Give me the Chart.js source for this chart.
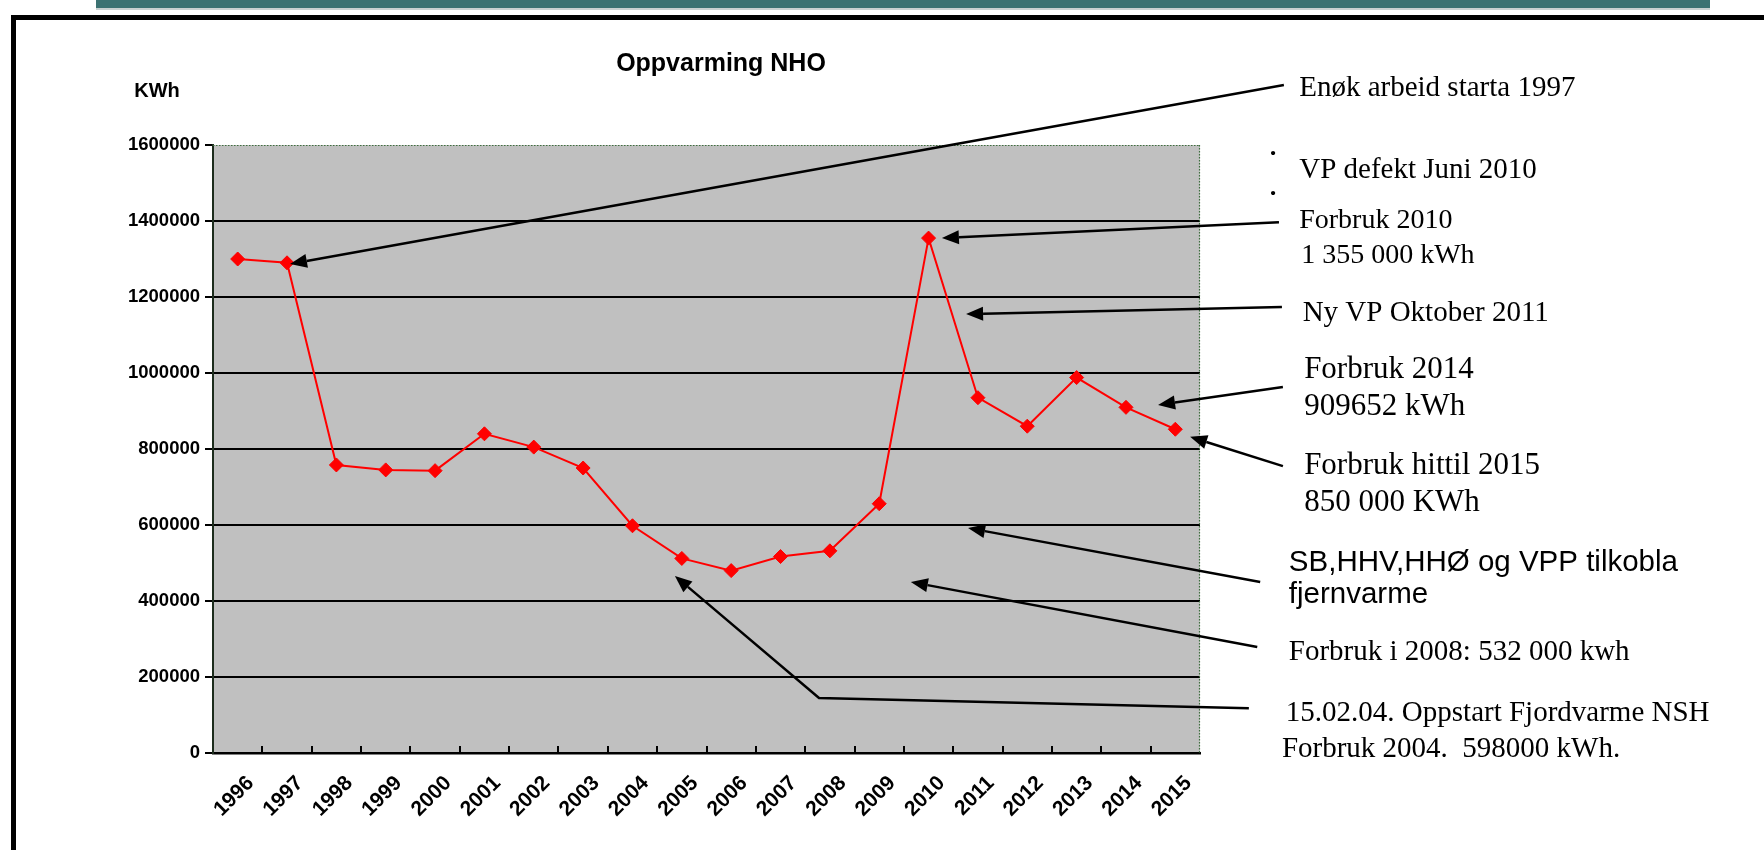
<!DOCTYPE html>
<html>
<head>
<meta charset="utf-8">
<script src="https://cdn.jsdelivr.net/npm/chart.js@4.4.1/dist/chart.umd.min.js"></script>
<style>
html,body{margin:0;padding:0;background:#fff;overflow:hidden;}
canvas{display:block;}
</style>
</head>
<body>
<canvas id="c" width="1764" height="850"></canvas>
<script>
// ---- data ----
const years = ['1996','1997','1998','1999','2000','2001','2002','2003','2004','2005',
               '2006','2007','2008','2009','2010','2011','2012','2013','2014','2015'];
const consumption = [1300000, 1290000, 758000, 745000, 743000, 840000, 805000, 750000, 598000, 512000,
                     480000, 517000, 532000, 656000, 1355000, 935000, 860000, 988000, 909652, 852000];
const yMin = 0;
const yMax = 1600000;
const yStep = 200000;
const chartTitle = 'Oppvarming NHO';
const yUnit = 'KWh';

// annotation texts, positioned in data space (x = category index, y = value)
const noteText = [
  'Enøk arbeid starta 1997',
  'VP defekt Juni 2010',
  'Forbruk 2010',
  '1 355 000 kWh',
  'Ny VP Oktober 2011',
  'Forbruk 2014',
  '909652 kWh',
  'Forbruk hittil 2015',
  '850 000 KWh',
  'SB,HHV,HHØ og VPP tilkobla',
  'fjernvarme',
  'Forbruk i 2008: 532 000 kwh',
  '15.02.04. Oppstart Fjordvarme NSH',
  'Forbruk 2004.  598000 kWh.'
];
const noteX = [21.51, 21.51, 21.51, 21.55, 21.58, 21.61, 21.61, 21.61, 21.61, 21.30, 21.30, 21.30, 21.24, 21.16];
const noteY = [1750000, 1533000, 1402000, 1310000, 1157000, 1008000, 912000, 755000, 658000, 500000, 416000, 266000, 105000, 10500];
const noteKind = ['s29','s29','s28','s28','s29','s31','s31','s31','s31','a29','a29','s29','s29','s29'];

// bullet dots next to "VP defekt Juni 2010"
const bulletX = [20.98, 20.98];
const bulletY = [1575000, 1470000];

// arrows: lists of [category index, value]; last point is the arrow tip
const arrowPaths = [
  [[21.20, 1758000], [1.06, 1287000]],
  [[21.10, 1397000], [14.27, 1355000]],
  [[21.16, 1174000], [14.76, 1155000]],
  [[21.18, 963000], [18.65, 916000]],
  [[21.18, 755000], [19.30, 832000]],
  [[20.72, 450000], [14.80, 592000]],
  [[20.66, 279000], [13.64, 450000]],
  [[20.49, 118000], [11.78, 145000], [8.86, 466000]]
];

const fonts = {
  s28: '28px "Liberation Serif", "Times New Roman", serif',
  s29: '29px "Liberation Serif", "Times New Roman", serif',
  s31: '31px "Liberation Serif", "Times New Roman", serif',
  a29: '29.5px "Liberation Sans", Arial, sans-serif'
};

const decorPlugin = {
  id: 'decor',
  beforeDraw(chart) {
    const ctx = chart.ctx;
    const a = chart.chartArea;
    ctx.save();
    ctx.fillStyle = '#ffffff';
    ctx.fillRect(0, 0, chart.width, chart.height);
    // teal bar at top
    ctx.fillStyle = '#3b7272';
    ctx.fillRect(96, 0, 1614, 8);
    ctx.fillStyle = '#c8d0d0';
    ctx.fillRect(96, 8, 1614, 2);
    // black frame
    ctx.fillStyle = '#000000';
    ctx.fillRect(11, 15, chart.width - 11, 5);
    ctx.fillRect(11, 15, 5, chart.height - 15);
    // plot area
    ctx.fillStyle = '#c0c0c0';
    ctx.fillRect(a.left, a.top, a.right - a.left, a.bottom - a.top);
    ctx.restore();
  },
  afterDraw(chart) {
    const ctx = chart.ctx;
    const a = chart.chartArea;
    const xs = chart.scales.x, ys = chart.scales.y;
    ctx.save();
    // dotted top/right border
    ctx.strokeStyle = '#3e6e3e';
    ctx.lineWidth = 1.2;
    ctx.setLineDash([1.5, 1.5]);
    ctx.beginPath();
    ctx.moveTo(a.left, a.top + 0.5);
    ctx.lineTo(a.right, a.top + 0.5);
    ctx.moveTo(a.right - 0.5, a.top);
    ctx.lineTo(a.right - 0.5, a.bottom);
    ctx.stroke();
    ctx.setLineDash([]);
    // inner tick marks on x axis at category boundaries
    ctx.strokeStyle = '#000';
    ctx.lineWidth = 2;
    ctx.beginPath();
    for (let i = 1; i < years.length; i++) {
      const px = Math.round(xs.getPixelForValue(i - 0.5));
      ctx.moveTo(px, a.bottom);
      ctx.lineTo(px, a.bottom - 7);
    }
    ctx.stroke();
    // title and unit
    ctx.fillStyle = '#000';
    ctx.textBaseline = 'middle';
    ctx.textAlign = 'center';
    ctx.font = 'bold 25px "Liberation Sans", Arial, sans-serif';
    ctx.fillText(chartTitle, 721, 64);
    ctx.font = 'bold 20px "Liberation Sans", Arial, sans-serif';
    ctx.fillText(yUnit, 157, 91);
    // annotation texts
    ctx.textAlign = 'left';
    for (let i = 0; i < noteText.length; i++) {
      ctx.font = fonts[noteKind[i]];
      ctx.fillText(noteText[i], xs.getPixelForValue(noteX[i]), ys.getPixelForValue(noteY[i]));
    }
    ctx.font = 'bold 26px "Liberation Serif", serif';
    ctx.textAlign = 'center';
    for (let i = 0; i < bulletX.length; i++) {
      ctx.fillText('·', xs.getPixelForValue(bulletX[i]), ys.getPixelForValue(bulletY[i]));
    }
    // arrows
    ctx.strokeStyle = '#000';
    ctx.fillStyle = '#000';
    ctx.lineWidth = 2.5;
    for (const path of arrowPaths) {
      const pts = path.map(p => [xs.getPixelForValue(p[0]), ys.getPixelForValue(p[1])]);
      const tip = pts[pts.length - 1];
      const prev = pts[pts.length - 2];
      const ang = Math.atan2(tip[1] - prev[1], tip[0] - prev[0]);
      const len = 17, half = 7;
      const bx = tip[0] - len * Math.cos(ang), by = tip[1] - len * Math.sin(ang);
      ctx.beginPath();
      ctx.moveTo(pts[0][0], pts[0][1]);
      for (let k = 1; k < pts.length - 1; k++) ctx.lineTo(pts[k][0], pts[k][1]);
      ctx.lineTo(bx, by);
      ctx.stroke();
      ctx.beginPath();
      ctx.moveTo(tip[0], tip[1]);
      ctx.lineTo(bx + half * Math.sin(ang), by - half * Math.cos(ang));
      ctx.lineTo(bx - half * Math.sin(ang), by + half * Math.cos(ang));
      ctx.closePath();
      ctx.fill();
    }
    ctx.restore();
  }
};

new Chart(document.getElementById('c'), {
  type: 'line',
  data: {
    labels: years,
    datasets: [{
      data: consumption,
      borderColor: '#ff0000',
      backgroundColor: '#ff0000',
      borderWidth: 2,
      pointStyle: 'rectRot',
      pointRadius: 7,
      pointBackgroundColor: '#ff0000',
      pointBorderColor: '#ff0000',
      pointBorderWidth: 1,
      tension: 0,
      fill: false
    }]
  },
  options: {
    responsive: false,
    devicePixelRatio: 1,
    animation: false,
    layout: { padding: { top: 145, right: 564, left: 0, bottom: 0 } },
    plugins: { legend: { display: false }, tooltip: { enabled: false }, title: { display: false } },
    scales: {
      x: {
        type: 'category',
        offset: true,
        afterFit(s) { s.height = 97; },
        grid: { display: false },
        border: { display: true, color: '#000', width: 2.5 },
        ticks: {
          autoSkip: false,
          minRotation: 45,
          maxRotation: 45,
          padding: 10,
          labelOffset: 13,
          color: '#000',
          font: { family: '"Liberation Sans", Arial, sans-serif', size: 21, weight: 'bold' }
        }
      },
      y: {
        min: yMin,
        max: yMax,
        afterFit(s) { s.width = 213; },
        grid: {
          color: c => (c.tick && c.tick.value === yMax ? 'rgba(0,0,0,0)' : '#000'),
          lineWidth: 2,
          drawTicks: true,
          tickLength: 8,
          tickColor: '#000',
          tickWidth: 2
        },
        border: { display: true, color: '#1c2c1c', width: 2 },
        ticks: {
          stepSize: yStep,
          padding: 5,
          color: '#000',
          callback: v => String(v),
          font: { family: '"Liberation Sans", Arial, sans-serif', size: 18.5, weight: 'bold' }
        }
      }
    }
  },
  plugins: [decorPlugin]
});
</script>
</body>
</html>
